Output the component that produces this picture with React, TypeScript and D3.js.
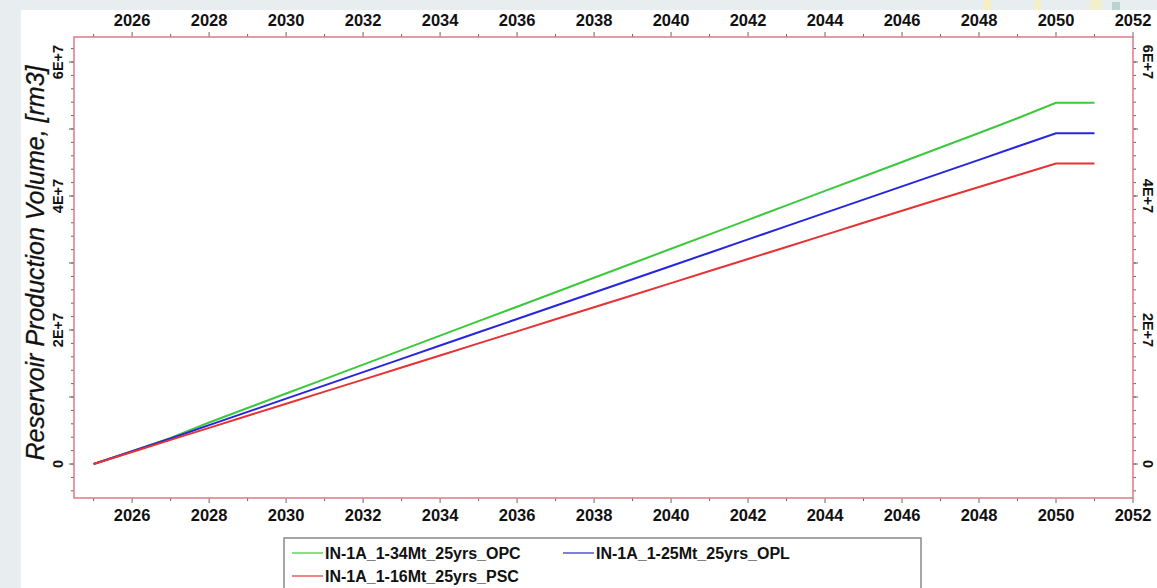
import React from "react";
import * as d3 from "d3";

const years = [2025, 2026, 2027, 2028, 2029, 2030, 2031, 2032, 2033, 2034, 2035, 2036, 2037, 2038, 2039, 2040, 2041, 2042, 2043, 2044, 2045, 2046, 2047, 2048, 2049, 2050, 2051];
const opc = [0, 1.9, 3.9, 6.2, 8.36, 10.52, 12.68, 14.84, 17.0, 19.16, 21.32, 23.48, 25.64, 27.8, 29.96, 32.12, 34.28, 36.44, 38.6, 40.76, 42.92, 45.08, 47.24, 49.4, 51.6, 53.9, 53.9];
const opl = [0, 1.9, 3.8, 5.8, 7.78, 9.76, 11.74, 13.72, 15.7, 17.68, 19.66, 21.64, 23.62, 25.6, 27.58, 29.56, 31.54, 33.52, 35.5, 37.48, 39.46, 41.44, 43.42, 45.4, 47.38, 49.36, 49.36];
const psc = [0, 1.8, 3.6, 5.4, 7.2, 9.0, 10.8, 12.6, 14.4, 16.2, 18.0, 19.8, 21.6, 23.4, 25.2, 27.0, 28.8, 30.6, 32.4, 34.2, 36.0, 37.8, 39.6, 41.35, 43.1, 44.85, 44.85];
const seriesNames = ["IN-1A_1-34Mt_25yrs_OPC", "IN-1A_1-25Mt_25yrs_OPL", "IN-1A_1-16Mt_25yrs_PSC"];
const seriesColors = ["#3cc83c", "#2626dc", "#e63232"];
const xTickLabels = [2026, 2028, 2030, 2032, 2034, 2036, 2038, 2040, 2042, 2044, 2046, 2048, 2050, 2052];
const yTickValues = [0, 2e7, 4e7, 6e7];
const yTickLabels = ["0", "2E+7", "4E+7", "6E+7"];

const W = 1157, H = 588;
const L = 74, R = 1133, T = 37, B = 498;

export default function App() {
  const x = d3.scaleLinear().domain([2024.49, 2052]).range([L, R]);
  const y = d3.scaleLinear().domain([-5.07e6, 6.373e7]).range([B, T]);
  const data = [opc, opl, psc];
  const line = d3.line<number>().x((_, i) => x(years[i])).y((v) => y(v * 1e6));
  const minorX = d3.range(2025, 2053, 1);
  const minorY = d3.range(-4e6, 6.4e7, 2e6);
  const majorY = d3.range(0, 6.4e7, 1e7);
  const axisColor = "#e0788a";
  const tickColor = "#666";
  const font = "'Liberation Sans', Arial, sans-serif";
  const leg = { x: 284, y: 538, w: 637, h: 60 };
  return (
    <svg width={W} height={H} style={{ position: "absolute", left: 0, top: 0 }} fontFamily={font}>
      <rect x={0} y={0} width={W} height={H} fill="#e8eef0" />
      <rect x={21} y={10} width={W - 21} height={H - 10} fill="#ffffff" />
      <rect x={984} y={0} width={7} height={10} fill="#f6f0c0" />
      <rect x={1035} y={0} width={6} height={10} fill="#f6f0c0" />
      <rect x={1090} y={0} width={12} height={10} fill="#f2f0cc" />
      <rect x={1112} y={2} width={8} height={8} fill="#b8d4cc" />
      {minorX.map((v) => {
        const major = v % 2 === 0;
        const len = major ? 5 : 3;
        return (
          <g key={"xt" + v}>
            <line x1={x(v)} x2={x(v)} y1={T} y2={T - len} stroke={tickColor} strokeWidth={1} />
            <line x1={x(v)} x2={x(v)} y1={B} y2={B + len} stroke={tickColor} strokeWidth={1} />
          </g>
        );
      })}
      {minorY.map((v) => (
        <g key={"yt" + v}>
          <line x1={L} x2={L - 3} y1={y(v)} y2={y(v)} stroke={tickColor} strokeWidth={1} />
          <line x1={R} x2={R + 3} y1={y(v)} y2={y(v)} stroke={tickColor} strokeWidth={1} />
        </g>
      ))}
      {majorY.map((v) => (
        <g key={"ym" + v}>
          <line x1={L} x2={L - 5} y1={y(v)} y2={y(v)} stroke={tickColor} strokeWidth={1} />
          <line x1={R} x2={R + 5} y1={y(v)} y2={y(v)} stroke={tickColor} strokeWidth={1} />
        </g>
      ))}
      <rect x={L} y={T} width={R - L} height={B - T} fill="none" stroke={axisColor} strokeWidth={1.5} />
      {xTickLabels.map((v) => (
        <g key={"xl" + v}>
          <text x={x(v)} y={26} textAnchor="middle" fontSize={16.5} fontWeight="bold" fill="#111">{v}</text>
          <text x={x(v)} y={521} textAnchor="middle" fontSize={16.5} fontWeight="bold" fill="#111">{v}</text>
        </g>
      ))}
      {yTickValues.map((v, i) => (
        <g key={"yl" + v}>
          <text transform={`translate(63,${y(v)}) rotate(-90)`} textAnchor="middle" fontSize={14.5} fontWeight="bold" fill="#111">{yTickLabels[i]}</text>
          <text transform={`translate(1143,${y(v)}) rotate(90)`} textAnchor="middle" fontSize={14.5} fontWeight="bold" fill="#111">{yTickLabels[i]}</text>
        </g>
      ))}
      <text transform={`translate(44,${263}) rotate(-90)`} textAnchor="middle" fontSize={25} fontStyle="italic" fill="#111" stroke="#111" strokeWidth={0.3}>Reservoir Production Volume, [rm3]</text>
      {data.map((d, i) => (
        <path key={"s" + i} d={line(d) || ""} fill="none" stroke={seriesColors[i]} strokeWidth={2} />
      ))}
      <rect x={leg.x} y={leg.y} width={leg.w} height={leg.h} fill="#ffffff" stroke="#888" strokeWidth={1.5} />
      {[
        { i: 0, lx: 292, ly: 553 },
        { i: 1, lx: 563, ly: 553 },
        { i: 2, lx: 292, ly: 576 },
      ].map(({ i, lx, ly }) => (
        <g key={"lg" + i}>
          <line x1={lx} x2={lx + 31} y1={ly} y2={ly} stroke={seriesColors[i]} strokeWidth={1.2} />
          <text x={lx + 33} y={ly + 6} fontSize={16} fontWeight="bold" fill="#111">{seriesNames[i]}</text>
        </g>
      ))}
    </svg>
  );
}
